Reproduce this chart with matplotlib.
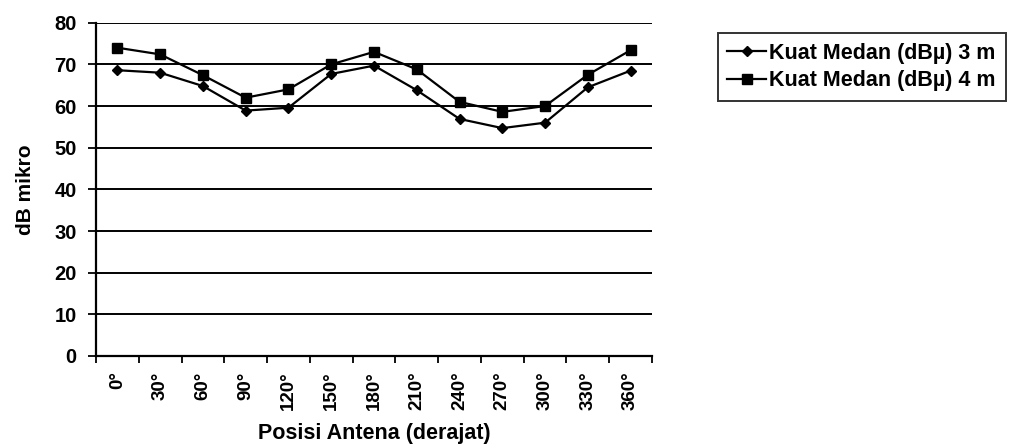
import matplotlib.pyplot as plt
import numpy as np

plt.rcParams['font.family'] = ['Liberation Sans', 'DejaVu Sans']
plt.rcParams['font.weight'] = 'bold'

# Data
posisi = ['0°', '30°', '60°', '90°', '120°', '150°', '180°', '210°',
          '240°', '270°', '300°', '330°', '360°']
kuat_3m = [68.6, 68, 64.8, 58.9, 59.6, 67.7, 69.7, 63.8, 56.9, 54.7, 56, 64.5, 68.5]
kuat_4m = [74, 72.4, 67.4, 62, 64, 70, 73, 68.8, 61, 58.6, 60, 67.5, 73.4]

fig = plt.figure(figsize=(10.21, 4.47), dpi=100)
ax = fig.add_axes([0.094, 0.2036, 0.5446, 0.7456])

x = np.arange(len(posisi))
ax.plot(x, kuat_3m, color='black', linewidth=1.6, marker='D', markersize=5,
        label='Kuat Medan (dBµ) 3 m')
ax.plot(x, kuat_4m, color='black', linewidth=1.6, marker='s', markersize=6.5,
        label='Kuat Medan (dBµ) 4 m')

# category axis: ticks between categories
ax.set_xlim(-0.5, len(posisi) - 0.5)
ax.set_xticks(np.arange(-0.5, len(posisi), 1.0))
ax.set_xticklabels([])
ax.set_xticks(x, minor=True)
ax.set_xticklabels(posisi, minor=True, rotation=90, fontsize=13.5, fontweight='bold')
ax.tick_params(axis='x', which='minor', length=0, pad=11)
ax.tick_params(axis='x', which='major', length=5, width=1.3, direction='out')

ax.set_ylim(0, 80)
ax.set_yticks(np.arange(0, 81, 10))
ax.tick_params(axis='y', length=6, width=1.3, direction='out', labelsize=14.5, pad=8)
for t in ax.get_yticklabels():
    t.set_fontweight('bold')

ax.grid(axis='y', color='black', linewidth=1.4)
ax.set_axisbelow(True)
for s in ['top', 'right']:
    ax.spines[s].set_visible(False)
ax.spines['left'].set_linewidth(1.6)
ax.spines['bottom'].set_linewidth(1.6)

ax.set_xlabel('Posisi Antena (derajat)', fontsize=15.5, fontweight='bold', labelpad=9)
ax.set_ylabel('dB mikro', fontsize=15, fontweight='bold', labelpad=14)

leg = fig.legend(loc='upper left', bbox_to_anchor=(0.703, 0.926), frameon=True,
                 fancybox=False, edgecolor='black', fontsize=15.5,
                 handlelength=1.8, handletextpad=0.15, borderpad=0.45,
                 borderaxespad=0, labelspacing=0.3)
leg.get_frame().set_linewidth(1.4)
for t in leg.get_texts():
    t.set_fontweight('bold')

fig.savefig('out.png', dpi=100)
